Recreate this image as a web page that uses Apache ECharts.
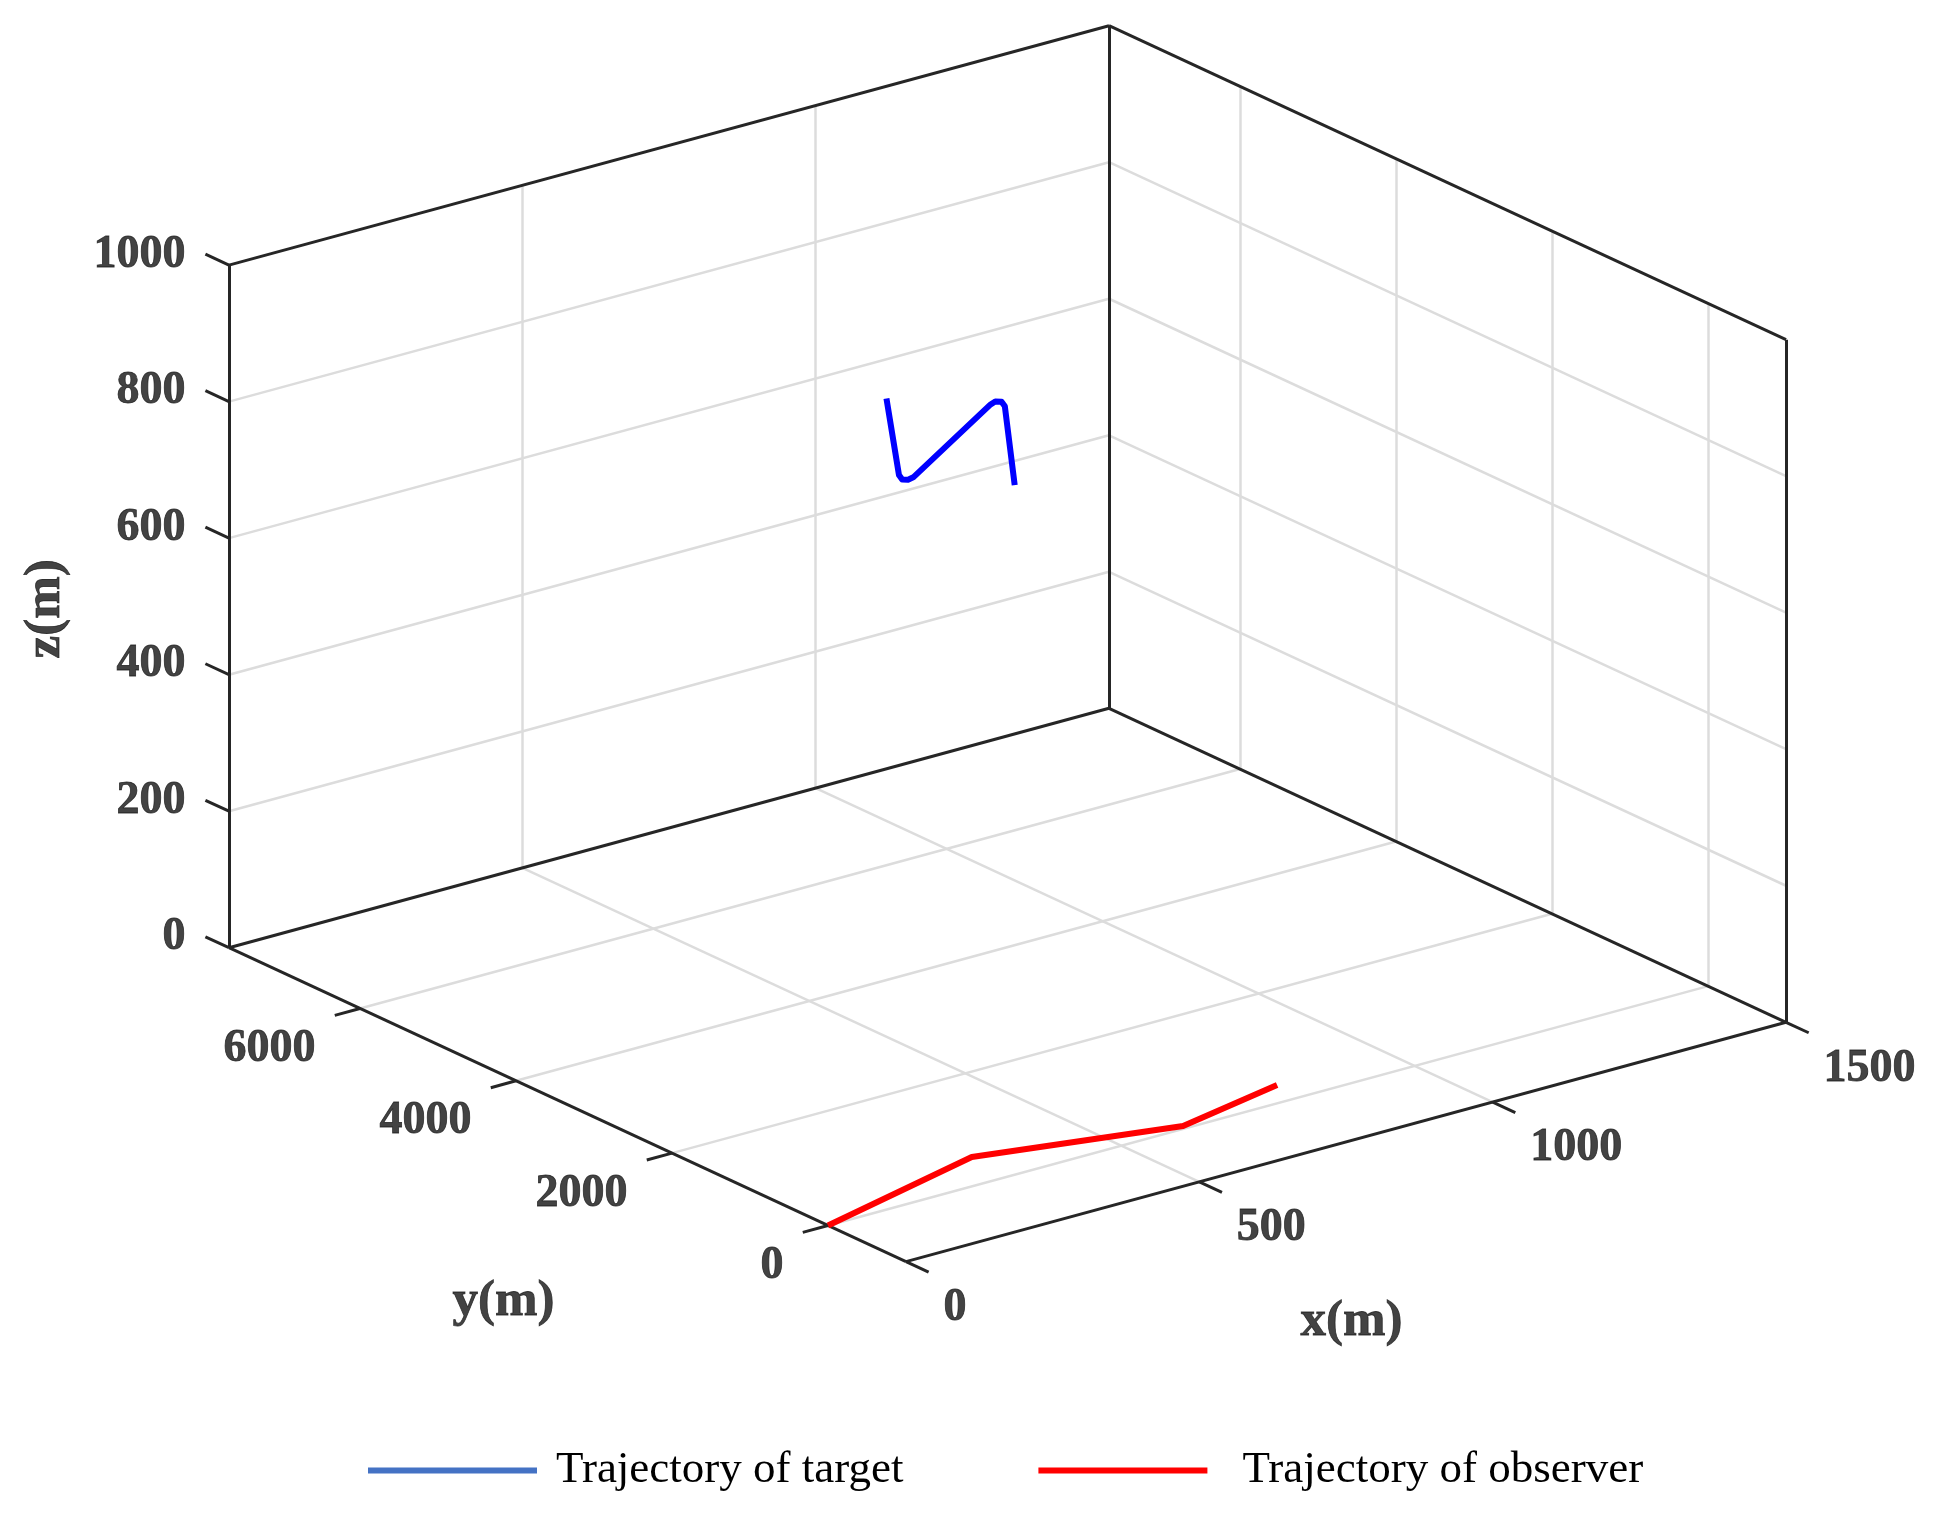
<!DOCTYPE html>
<html><head><meta charset="utf-8">
<script src="https://cdn.jsdelivr.net/npm/echarts@6/dist/echarts.min.js"></script>
<style>html,body{margin:0;padding:0;background:#fff}#c{width:1950px;height:1513px}</style>
</head><body><div id="c"></div>
<script>
// ---- axis limits and ticks (metres) ----
const xLim = [0, 1500];
const yLim = [-1000, 7680];
const zLim = [0, 1000];
const xTicks = [0, 500, 1000, 1500];
const yTicks = [0, 2000, 4000, 6000];
const zTicks = [0, 200, 400, 600, 800, 1000];
const axisTitles = ['x(m)', 'y(m)', 'z(m)'];

// ---- trajectories ----
const seriesNames = ['Trajectory of target', 'Trajectory of observer'];
const targetX = [1030, 866, 859, 865, 876, 1128, 1140, 1146, 1139, 967];
const targetY = [6998, 5604, 5510, 5480, 5496, 6400, 6430, 6395, 6300, 4880];
const targetZ = [600, 600, 600, 600, 600, 600, 600, 600, 600, 600];
const observerX = [0, 313, 612, 808];
const observerY = [0, 511, 51, 320];
const observerZ = [0, 0, 0, 0];

// ---- view: oblique projection of the 3-D box onto the page plane ----
const VIEW = { ox: 828, oy: 1225.5, xu: [0.5867, -0.1596], yu: [-0.078, -0.03617], zu: [0, -0.6826] };
function proj(x, y, z) {
  return [VIEW.ox + x * VIEW.xu[0] + y * VIEW.yu[0] + z * VIEW.zu[0],
          VIEW.oy + x * VIEW.xu[1] + y * VIEW.yu[1] + z * VIEW.zu[1]];
}
const [x0, x1] = xLim, [y0, y1] = yLim, [z0, z1] = zLim;
const inner = (t, lim) => t.filter(v => v > lim[0] && v < lim[1]);

// grid lines on the back walls and floor
const gridSegs = [];
inner(xTicks, xLim).forEach(x => { gridSegs.push([[x, y1, z0], [x, y1, z1]]); gridSegs.push([[x, y0, z0], [x, y1, z0]]); });
inner(zTicks, zLim).forEach(z => { gridSegs.push([[x0, y1, z], [x1, y1, z]]); gridSegs.push([[x1, y0, z], [x1, y1, z]]); });
inner(yTicks, yLim).forEach(y => { gridSegs.push([[x1, y, z0], [x1, y, z1]]); gridSegs.push([[x0, y, z0], [x1, y, z0]]); });

// box edges (back style) + axis lines
const boxSegs = [
  [[x0, y1, z0], [x0, y1, z1]], [[x1, y1, z0], [x1, y1, z1]], [[x1, y0, z0], [x1, y0, z1]],
  [[x0, y1, z1], [x1, y1, z1]], [[x1, y1, z1], [x1, y0, z1]],
  [[x0, y1, z0], [x1, y1, z0]], [[x1, y1, z0], [x1, y0, z0]],
  [[x0, y0, z0], [x0, y1, z0]], [[x0, y0, z0], [x1, y0, z0]]
];
// tick marks
const zTickLen = 302, yTickLen = 43, xTickLen = 290;
zTicks.forEach(z => boxSegs.push([[x0, y1, z], [x0, y1 + zTickLen, z]]));
yTicks.forEach(y => boxSegs.push([[x0, y, z0], [x0 - yTickLen, y, z0]]));
xTicks.forEach(x => boxSegs.push([[x, y0, z0], [x, y0 - xTickLen, z0]]));

const toLines = segs => segs.map(s => ({ coords: [proj(...s[0]), proj(...s[1])] }));

const tickFont = { fontFamily: 'Liberation Serif', fontWeight: 'bold', fontSize: 46, color: '#141414', textBorderColor: '#141414', textBorderWidth: 0.8 };
const titleFont = { fontFamily: 'Liberation Serif', fontWeight: 'bold', fontSize: 51, color: '#141414', textBorderColor: '#141414', textBorderWidth: 0.8 };

function labelSeries(points, label) {
  return {
    type: 'scatter', symbolSize: 1, silent: true, z: 10,
    itemStyle: { color: 'transparent' },
    label: Object.assign({ show: true, formatter: '{b}' }, label),
    data: points
  };
}

const zLabelPts = zTicks.map(z => ({ name: String(z), value: proj(x0, y1, z) }));
const yLabelPts = yTicks.map(y => ({ name: String(y), value: proj(x0, y, z0) }));
const xLabelPts = xTicks.map(x => ({ name: String(x), value: proj(x, y0, z0) }));

const xMid = (x0 + x1) / 2, yMid = 3000, zMid = (z0 + z1) / 2;

const option = {
  animation: false,
  backgroundColor: '#ffffff',
  grid: { left: 0, right: 0, top: 0, bottom: 0 },
  xAxis: { type: 'value', min: 0, max: 1950, show: false },
  yAxis: { type: 'value', min: 0, max: 1513, inverse: true, show: false },
  legend: {
    left: 363, top: 1443, itemWidth: 169, itemHeight: 6, itemGap: 135,
    textStyle: { fontFamily: 'Liberation Serif', fontSize: 45, color: '#000' },
    data: [
      { name: seriesNames[0], icon: 'rect', itemStyle: { color: '#4472c4' }, textStyle: { padding: [0, 0, 0, 14] } },
      { name: seriesNames[1], icon: 'rect', itemStyle: { color: '#ff0000' }, textStyle: { padding: [0, 0, 0, 30] } }
    ]
  },
  series: [
    { type: 'lines', coordinateSystem: 'cartesian2d', silent: true, z: 1,
      lineStyle: { color: '#dcdcdc', width: 2.5, opacity: 1 }, data: toLines(gridSegs) },
    { type: 'lines', coordinateSystem: 'cartesian2d', silent: true, z: 3,
      lineStyle: { color: '#262626', width: 3, opacity: 1 }, data: toLines(boxSegs) },
    { name: seriesNames[0], type: 'line', z: 5, showSymbol: false, symbol: 'none',
      lineStyle: { color: '#0000ff', width: 6, join: 'round', cap: 'butt' }, itemStyle: { color: '#0000ff' },
      data: targetX.map((x, i) => proj(x, targetY[i], targetZ[i])) },
    { name: seriesNames[1], type: 'line', z: 5, showSymbol: false, symbol: 'none',
      lineStyle: { color: '#ff0000', width: 6, join: 'round' }, itemStyle: { color: '#ff0000' },
      data: observerX.map((x, i) => proj(x, observerY[i], observerZ[i])) },
    labelSeries(zLabelPts, Object.assign({ position: [-43, -10], align: 'right', verticalAlign: 'middle' }, tickFont)),
    labelSeries(yLabelPts, Object.assign({ position: [-44, 41], align: 'right', verticalAlign: 'middle' }, tickFont)),
    labelSeries(xLabelPts, Object.assign({ position: [38, 47], align: 'left', verticalAlign: 'middle' }, tickFont)),
    labelSeries([{ name: axisTitles[0], value: proj(xMid, y0, z0) }], Object.assign({ position: [6, 180], align: 'center', verticalAlign: 'middle' }, titleFont)),
    labelSeries([{ name: axisTitles[1], value: proj(x0, yMid, z0) }], Object.assign({ position: [-90, 185], align: 'center', verticalAlign: 'middle' }, titleFont)),
    labelSeries([{ name: axisTitles[2], value: proj(x0, y1, zMid) }], Object.assign({ position: [-183, 3], align: 'center', verticalAlign: 'middle', rotate: 90 }, titleFont))
  ]
};
const chart = echarts.init(document.getElementById('c'), null, { renderer: 'canvas' });
chart.setOption(option);
</script></body></html>
